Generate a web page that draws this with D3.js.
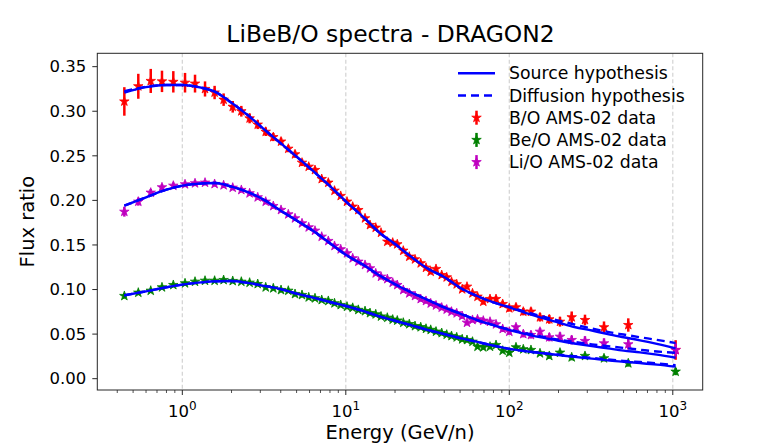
<!DOCTYPE html>
<html>
<head>
<meta charset="utf-8">
<script src="https://cdn.jsdelivr.net/npm/d3@7"></script>
<style>
  body { margin: 0; background: #fff; }
  svg { display: block; font-family: "DejaVu Sans", sans-serif; }
</style>
</head>
<body>
<div id="chart"></div>
<script>
// AMS-02 data points (energy per nucleon, GeV/n)
var energy = [0.442, 0.538, 0.641, 0.751, 0.881, 1.039, 1.196, 1.377, 1.576, 1.789,
  2.034, 2.296, 2.580, 2.892, 3.237, 3.602, 4.016, 4.449, 4.891, 5.397,
  5.932, 6.480, 7.122, 7.816, 8.530, 9.307, 10.17, 11.02, 11.93, 13.11,
  14.06, 15.24, 16.42, 17.94, 19.36, 20.65, 22.47, 24.45, 26.50, 28.72,
  30.94, 33.06, 35.62, 38.60, 41.41, 44.32, 47.68, 51.51, 55.11, 59.55,
  63.91, 69.34, 76.21, 82.94, 91.1, 100.0, 109.9, 121.8, 135.7, 154.1,
  175.6, 204.2, 240.8, 290.4, 379.6, 534.3, 1041];

var boData = [0.311, 0.328, 0.334, 0.3335, 0.333, 0.332, 0.331, 0.325, 0.321, 0.313,
  0.305, 0.300, 0.292, 0.285, 0.277, 0.271, 0.266, 0.258, 0.2517, 0.2423,
  0.2378, 0.2341, 0.2240, 0.2199, 0.2109, 0.2050, 0.1986, 0.1930, 0.1892, 0.1799,
  0.1724, 0.1694, 0.1638, 0.1537, 0.1526, 0.1508, 0.1436, 0.1369, 0.1339, 0.1295,
  0.1245, 0.1200, 0.1231, 0.1163, 0.1137, 0.1088, 0.1059, 0.1003, 0.1032, 0.0958,
  0.0920, 0.0864, 0.0894, 0.0894, 0.0838, 0.0790, 0.0801, 0.0752, 0.0752, 0.0689,
  0.0666, 0.0639, 0.0689, 0.0658, 0.0577, 0.0602, 0.0322];
var boErr = [0.016, 0.014, 0.0135, 0.012, 0.012, 0.011, 0.010, 0.0085, 0.0075, 0.007,
  0.0065, 0.006, 0.0055, 0.005, 0.0048, 0.0045, 0.0043, 0.004, 0.004, 0.0038,
  0.0036, 0.0035, 0.0034, 0.0033, 0.0032, 0.0031, 0.003, 0.003, 0.003, 0.003,
  0.003, 0.003, 0.003, 0.003, 0.003, 0.003, 0.003, 0.003, 0.003, 0.003,
  0.003, 0.003, 0.003, 0.003, 0.003, 0.003, 0.003, 0.003, 0.003, 0.003,
  0.0032, 0.0033, 0.0034, 0.0035, 0.0036, 0.0038, 0.004, 0.0042, 0.0045, 0.0048,
  0.005, 0.0055, 0.0065, 0.006, 0.0065, 0.0075, 0.011];

var beoData = [0.0928, 0.0965, 0.0987, 0.1025, 0.1051, 0.1070, 0.1088, 0.1099, 0.1099, 0.1107,
  0.1096, 0.1088, 0.1077, 0.1062, 0.1025, 0.1014, 0.0995, 0.0987, 0.0950, 0.0939,
  0.0913, 0.0902, 0.0883, 0.0872, 0.0846, 0.0827, 0.0808, 0.0795, 0.0772, 0.0758,
  0.0736, 0.0722, 0.0698, 0.0684, 0.0663, 0.0652, 0.0628, 0.0612, 0.0590, 0.0578,
  0.0560, 0.0548, 0.0528, 0.0512, 0.0494, 0.0479, 0.0464, 0.0442, 0.0434, 0.0415,
  0.0359, 0.0352, 0.0359, 0.0378, 0.0314, 0.0292, 0.0352, 0.0330, 0.0322, 0.0285,
  0.0255, 0.0292, 0.0240, 0.0255, 0.0229, 0.0173, 0.0079];
var beoErr = [0.003, 0.0028, 0.0026, 0.0025, 0.0025, 0.0025, 0.0025, 0.0025, 0.0025, 0.0025,
  0.0025, 0.0025, 0.0025, 0.0025, 0.0025, 0.0025, 0.0025, 0.0025, 0.0025, 0.0025,
  0.0025, 0.0025, 0.0025, 0.0025, 0.0025, 0.0025, 0.0025, 0.0025, 0.0025, 0.0025,
  0.0025, 0.0025, 0.0025, 0.0025, 0.0025, 0.0025, 0.0025, 0.0025, 0.0025, 0.0025,
  0.0025, 0.0025, 0.0025, 0.0025, 0.0025, 0.0025, 0.0025, 0.0025, 0.0025, 0.0025,
  0.0026, 0.0026, 0.0027, 0.0027, 0.0028, 0.0028, 0.0029, 0.003, 0.003, 0.0031,
  0.0032, 0.0033, 0.0034, 0.0035, 0.0036, 0.0038, 0.004];

var lioData = [0.1873, 0.1986, 0.2087, 0.2147, 0.2165, 0.2181, 0.2192, 0.2199, 0.2184, 0.2170,
  0.2143, 0.2117, 0.2080, 0.2035, 0.1986, 0.1937, 0.1893, 0.1844, 0.1799, 0.1743,
  0.1698, 0.1660, 0.1593, 0.1545, 0.1489, 0.1452, 0.1407, 0.1351, 0.1313, 0.1276,
  0.1238, 0.1182, 0.1144, 0.1118, 0.1077, 0.1051, 0.0995, 0.0958, 0.0928, 0.0894,
  0.0872, 0.0845, 0.0822, 0.0798, 0.0776, 0.0752, 0.0734, 0.0703, 0.0628, 0.0659,
  0.0666, 0.0651, 0.0639, 0.0610, 0.0558, 0.0527, 0.0577, 0.0501, 0.0490, 0.0527,
  0.0464, 0.0471, 0.0434, 0.0423, 0.0397, 0.0386, 0.0322];
var lioErr = [0.0055, 0.0045, 0.004, 0.0035, 0.0035, 0.0033, 0.0032, 0.003, 0.003, 0.003,
  0.003, 0.003, 0.003, 0.003, 0.003, 0.003, 0.003, 0.003, 0.003, 0.003,
  0.003, 0.003, 0.003, 0.003, 0.003, 0.003, 0.003, 0.003, 0.003, 0.003,
  0.003, 0.003, 0.003, 0.003, 0.003, 0.003, 0.003, 0.003, 0.003, 0.003,
  0.003, 0.003, 0.003, 0.003, 0.003, 0.003, 0.003, 0.003, 0.003, 0.003,
  0.003, 0.0031, 0.0032, 0.0033, 0.0034, 0.0035, 0.0036, 0.0038, 0.004, 0.0042,
  0.0045, 0.0048, 0.005, 0.0052, 0.0055, 0.006, 0.0075];

// DRAGON2 model curves
var modelEnergy = [0.442, 0.6, 0.8, 1.0, 1.3, 1.6, 2.0, 2.5, 3.2, 4.0,
  5.0, 6.3, 8.0, 10, 13, 16, 20, 25, 32, 40,
  50, 63, 80, 100, 130, 160, 200, 250, 320, 400,
  500, 630, 800, 1040];

var boSource = [0.321, 0.327, 0.3295, 0.3295, 0.3265, 0.3215, 0.3095, 0.296, 0.279, 0.264,
  0.249, 0.233, 0.216, 0.199, 0.180, 0.164, 0.151, 0.137, 0.123, 0.114,
  0.102, 0.093, 0.0855, 0.080, 0.073, 0.068, 0.063, 0.058, 0.054, 0.050,
  0.0465, 0.043, 0.039, 0.034];
var boDiffusion = [0.3225, 0.3275, 0.3295, 0.3295, 0.3265, 0.3215, 0.3095, 0.296, 0.279, 0.264,
  0.249, 0.233, 0.216, 0.199, 0.180, 0.164, 0.151, 0.137, 0.123, 0.114,
  0.102, 0.093, 0.0855, 0.0805, 0.0742, 0.0698, 0.0652, 0.0608, 0.0562, 0.0525,
  0.0495, 0.0465, 0.0435, 0.040];

var lioSource = [0.194, 0.2035, 0.212, 0.2165, 0.219, 0.2195, 0.2155, 0.2095, 0.200, 0.1885,
  0.1775, 0.166, 0.152, 0.139, 0.127, 0.116, 0.106, 0.097, 0.088, 0.080,
  0.073, 0.066, 0.060, 0.0545, 0.0495, 0.046, 0.0425, 0.0395, 0.0365, 0.034,
  0.0315, 0.0295, 0.027, 0.0235];
var lioDiffusion = [0.194, 0.2035, 0.212, 0.2165, 0.219, 0.2195, 0.2155, 0.2095, 0.200, 0.1885,
  0.1775, 0.166, 0.152, 0.139, 0.127, 0.116, 0.106, 0.097, 0.088, 0.080,
  0.073, 0.066, 0.060, 0.055, 0.0505, 0.047, 0.0438, 0.0412, 0.0385, 0.0365,
  0.0345, 0.0325, 0.0305, 0.029];

var beoSource = [0.0935, 0.098, 0.1025, 0.1055, 0.108, 0.1093, 0.1095, 0.1075, 0.104, 0.1005,
  0.0955, 0.091, 0.086, 0.0815, 0.0755, 0.070, 0.065, 0.060, 0.0545, 0.050,
  0.0455, 0.0415, 0.037, 0.0335, 0.0305, 0.0285, 0.0265, 0.0245, 0.0225, 0.0205,
  0.019, 0.0175, 0.0158, 0.0135];
var beoDiffusion = [0.0935, 0.098, 0.1025, 0.1055, 0.108, 0.1093, 0.1095, 0.1075, 0.104, 0.1005,
  0.0955, 0.091, 0.086, 0.0815, 0.0755, 0.070, 0.065, 0.060, 0.0545, 0.050,
  0.0455, 0.0415, 0.037, 0.0335, 0.0305, 0.0288, 0.027, 0.0252, 0.0233, 0.0215,
  0.020, 0.0187, 0.0172, 0.015];

var yTicks = [0.00, 0.05, 0.10, 0.15, 0.20, 0.25, 0.30, 0.35];
var xTicks = [1, 10, 100, 1000];

var W = 781, H = 446;
var margin = {top: 53.3, right: 78.3, bottom: 56, left: 97.3};
var width = W - margin.left - margin.right,
    height = H - margin.top - margin.bottom;

var svg = d3.select("#chart").append("svg")
    .attr("width", W)
    .attr("height", H);

var g = svg.append("g")
    .attr("transform", "translate(" + margin.left + "," + margin.top + ")");

var x = d3.scaleLog().domain([0.302, 1524]).range([0, width]);
var y = d3.scaleLinear().domain([-0.0127, 0.365]).range([height, 0]);

// vertical dashed grid at decades
g.append("g").selectAll("line")
  .data(xTicks)
  .join("line")
    .attr("x1", d => x(d)).attr("x2", d => x(d))
    .attr("y1", 0).attr("y2", height)
    .attr("stroke", "#d3d3d3")
    .attr("stroke-width", 1.2)
    .attr("stroke-dasharray", "4,2.5");

var plot = g.append("g");

var star = d3.symbol().type(d3.symbolStar).size(28);

function drawErrorbars(vals, errs, color) {
  var pts = energy.map(function(e, i) { return {e: e, v: vals[i], s: errs[i]}; });
  var grp = plot.append("g");
  grp.selectAll("line")
    .data(pts)
    .join("line")
      .attr("x1", d => x(d.e)).attr("x2", d => x(d.e))
      .attr("y1", d => y(d.v - d.s)).attr("y2", d => y(d.v + d.s))
      .attr("stroke", color)
      .attr("stroke-width", 2.5);
  grp.selectAll("path")
    .data(pts)
    .join("path")
      .attr("d", star)
      .attr("transform", d => "translate(" + x(d.e) + "," + y(d.v) + ")")
      .attr("fill", color)
      .attr("stroke", color)
      .attr("stroke-width", 0.8);
}

drawErrorbars(boData, boErr, "#ff0000");
drawErrorbars(beoData, beoErr, "#008000");
drawErrorbars(lioData, lioErr, "#bf00bf");

var line = d3.line()
  .x(d => x(d[0]))
  .y(d => y(d[1]));

function drawModel(vals, dashed) {
  plot.append("path")
    .datum(modelEnergy.map(function(e, i) { return [e, vals[i]]; }))
    .attr("d", line.curve(d3.curveMonotoneX))
    .attr("fill", "none")
    .attr("stroke", "#0000ff")
    .attr("stroke-width", 2.4)
    .attr("stroke-dasharray", dashed ? "8,5" : null);
}

drawModel(boSource, false);
drawModel(boDiffusion, true);
drawModel(beoSource, false);
drawModel(beoDiffusion, true);
drawModel(lioSource, false);
drawModel(lioDiffusion, true);

// frame
g.append("rect")
  .attr("width", width).attr("height", height)
  .attr("fill", "none")
  .attr("stroke", "#262626")
  .attr("stroke-width", 1);

// y axis ticks
var yAx = g.append("g");
yAx.selectAll("line")
  .data(yTicks)
  .join("line")
    .attr("x1", -5).attr("x2", 0)
    .attr("y1", d => y(d)).attr("y2", d => y(d))
    .attr("stroke", "#262626");
yAx.selectAll("text")
  .data(yTicks)
  .join("text")
    .attr("x", -11)
    .attr("y", d => y(d))
    .attr("dy", "0.35em")
    .attr("text-anchor", "end")
    .attr("font-size", 16.5)
    .attr("fill", "#000")
    .text(d => d.toFixed(2));

// x axis ticks (log, with minor ticks)
var minor = [];
[-1, 0, 1, 2, 3].forEach(function(p) {
  for (var k = 2; k <= 9; k++) {
    var v = k * Math.pow(10, p);
    if (v > x.domain()[0] && v < x.domain()[1]) minor.push(v);
  }
});
var xAx = g.append("g").attr("transform", "translate(0," + height + ")");
xAx.selectAll("line.minor")
  .data(minor)
  .join("line")
    .attr("class", "minor")
    .attr("x1", d => x(d)).attr("x2", d => x(d))
    .attr("y1", 0).attr("y2", 3)
    .attr("stroke", "#262626")
    .attr("stroke-width", 0.8);
xAx.selectAll("line.major")
  .data(xTicks)
  .join("line")
    .attr("class", "major")
    .attr("x1", d => x(d)).attr("x2", d => x(d))
    .attr("y1", 0).attr("y2", 5)
    .attr("stroke", "#262626");
var xl = xAx.selectAll("text")
  .data(xTicks)
  .join("text")
    .attr("x", d => x(d))
    .attr("y", 26.5)
    .attr("text-anchor", "middle")
    .attr("font-size", 16.5)
    .attr("fill", "#000");
xl.append("tspan").text("10");
xl.append("tspan")
  .attr("dy", -7)
  .attr("font-size", 12)
  .text(d => Math.round(Math.log10(d)));

// axis labels and title
svg.append("text")
  .attr("x", margin.left + width / 2)
  .attr("y", 439)
  .attr("text-anchor", "middle")
  .attr("font-size", 19.5)
  .text("Energy (GeV/n)");

svg.append("text")
  .attr("transform", "translate(34," + (margin.top + height / 2) + ") rotate(-90)")
  .attr("text-anchor", "middle")
  .attr("font-size", 19.5)
  .text("Flux ratio");

svg.append("text")
  .attr("x", W / 2)
  .attr("y", 42)
  .attr("text-anchor", "middle")
  .attr("font-size", 23.4)
  .text("LiBeB/O spectra - DRAGON2");

// legend
var legendItems = [
  {label: "Source hypothesis", type: "line", dash: null},
  {label: "Diffusion hypothesis", type: "line", dash: "8,5"},
  {label: "B/O AMS-02 data", type: "err", color: "#ff0000"},
  {label: "Be/O AMS-02 data", type: "err", color: "#008000"},
  {label: "Li/O AMS-02 data", type: "err", color: "#bf00bf"}
];
var legend = svg.append("g").attr("transform", "translate(458,73.3)");
var rows = legend.selectAll("g")
  .data(legendItems)
  .join("g")
    .attr("transform", (d, i) => "translate(0," + i * 22.2 + ")");
rows.filter(d => d.type === "line").append("line")
  .attr("x1", 0).attr("x2", 37)
  .attr("stroke", "#0000ff")
  .attr("stroke-width", 2.4)
  .attr("stroke-dasharray", d => d.dash);
rows.filter(d => d.type === "err").append("line")
  .attr("x1", 18.5).attr("x2", 18.5)
  .attr("y1", -7).attr("y2", 7)
  .attr("stroke", d => d.color)
  .attr("stroke-width", 2.5);
rows.filter(d => d.type === "err").append("path")
  .attr("d", star)
  .attr("transform", "translate(18.5,0)")
  .attr("fill", d => d.color)
  .attr("stroke", d => d.color)
  .attr("stroke-width", 0.8);
rows.append("text")
  .attr("x", 51)
  .attr("dy", "0.35em")
  .attr("font-size", 17.3)
  .attr("fill", "#000")
  .text(d => d.label);
</script>
</body>
</html>
